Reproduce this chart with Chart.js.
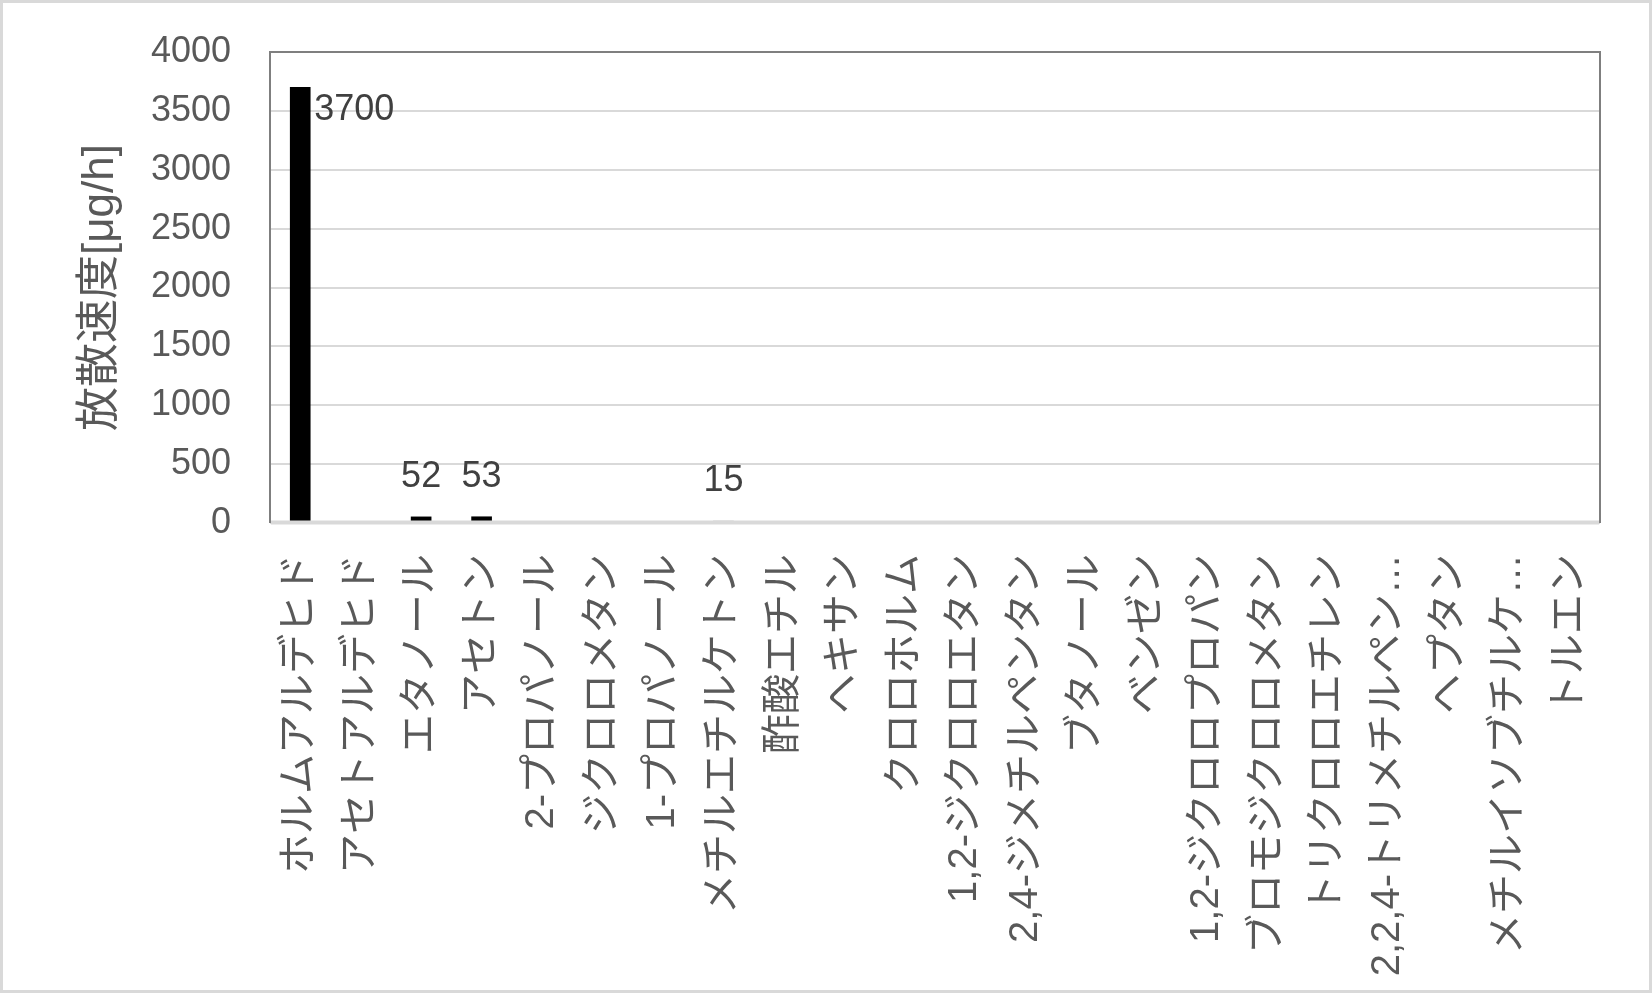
<!DOCTYPE html>
<html>
<head>
<meta charset="utf-8">
<script src="https://cdn.jsdelivr.net/npm/chart.js@4"></script>
<style>
  body { margin: 0; background: #fff; }
  #c { display: block; }
</style>
</head>
<body>
<canvas id="c" width="1652" height="993"></canvas>
<script>
// 物質名（Excelで省略された名前はそのまま）
const compounds = [
  'ホルムアルデヒド', 'アセトアルデヒド', 'エタノール', 'アセトン',
  '2-プロパノール', 'ジクロロメタン', '1-プロパノール', 'メチルエチルケトン',
  '酢酸エチル', 'ヘキサン', 'クロロホルム', '1,2-ジクロロエタン',
  '2,4-ジメチルペンタン', 'ブタノール', 'ベンゼン', '1,2-ジクロロプロパン',
  'ブロモジクロロメタン', 'トリクロロエチレン', '2,2,4-トリメチルペン…', 'ヘプタン',
  'メチルイソブチルケ…', 'トルエン'
];
// 放散速度 [μg/h]、値のないものは null
const emissionRate = [
  3700, null, 52, 53,
  null, null, null, 15,
  null, null, null, null,
  null, null, null, null,
  null, null, null, null,
  null, null
];
const yTicks = [0, 500, 1000, 1500, 2000, 2500, 3000, 3500, 4000];

const latin = "'Liberation Sans', 'Noto Sans CJK JP', sans-serif";

// 背景と外枠、プロットエリアの枠
const frame = {
  id: 'frame',
  beforeDraw(chart) {
    const ctx = chart.ctx;
    ctx.save();
    ctx.fillStyle = '#fff';
    ctx.fillRect(0, 0, chart.width, chart.height);
    ctx.strokeStyle = '#d9d9d9';
    ctx.lineWidth = 3;
    ctx.strokeRect(1.5, 1.5, chart.width - 3, chart.height - 3);
    ctx.restore();
  },
  beforeDatasetsDraw(chart) {
    const a = chart.chartArea, ctx = chart.ctx;
    ctx.save();
    ctx.strokeStyle = '#7f7f7f';
    ctx.lineWidth = 2;
    ctx.beginPath();
    ctx.moveTo(a.left, a.bottom);
    ctx.lineTo(a.left, a.top);
    ctx.lineTo(a.right, a.top);
    ctx.lineTo(a.right, a.bottom);
    ctx.stroke();
    ctx.restore();
  },
  afterDatasetsDraw(chart) {
    // 横軸の線は棒の上に
    const a = chart.chartArea, ctx = chart.ctx;
    ctx.save();
    ctx.strokeStyle = '#d9d9d9';
    ctx.lineWidth = 4;
    ctx.beginPath();
    ctx.moveTo(a.left + 1, a.bottom - 0.5);
    ctx.lineTo(a.right - 1, a.bottom - 0.5);
    ctx.stroke();
    ctx.restore();
  }
};

// データラベル（上に入らないときは棒の右側）
const valueLabels = {
  id: 'valueLabels',
  afterDatasetsDraw(chart) {
    const ctx = chart.ctx, a = chart.chartArea;
    const meta = chart.getDatasetMeta(0);
    ctx.save();
    ctx.font = '36px ' + latin;
    ctx.fillStyle = '#404040';
    ctx.textBaseline = 'alphabetic';
    meta.data.forEach((bar, i) => {
      const v = emissionRate[i];
      if (v === null) return;
      const txt = String(v);
      if (bar.y - 60 < a.top) {
        ctx.textAlign = 'left';
        ctx.fillText(txt, bar.x + bar.width / 2 + 4, bar.y + 33);
      } else {
        ctx.textAlign = 'center';
        ctx.fillText(txt, bar.x, bar.y - 30);
      }
    });
    ctx.restore();
  }
};

new Chart(document.getElementById('c'), {
  type: 'bar',
  data: {
    labels: compounds,
    datasets: [{
      data: emissionRate,
      backgroundColor: '#000000',
      barThickness: 20
    }]
  },
  options: {
    responsive: false,
    animation: false,
    devicePixelRatio: 1,
    layout: { padding: { top: 52, right: 52, bottom: 0, left: 74 } },
    plugins: {
      legend: { display: false },
      tooltip: { enabled: false }
    },
    scales: {
      x: {
        grid: { display: false, drawTicks: false },
        border: { display: false },
        ticks: {
          autoSkip: false,
          minRotation: 90,
          maxRotation: 90,
          padding: 31,
          color: '#595959',
          font: { family: latin, size: 40 }
        },
        afterFit(scale) { scale.height = 470; }
      },
      y: {
        min: 0,
        max: 4000,
        afterBuildTicks(scale) { scale.ticks = yTicks.map(v => ({ value: v })); },
        grid: { color: '#d9d9d9', lineWidth: 2, tickLength: 39, tickColor: 'rgba(0,0,0,0)' },
        border: { display: false },
        ticks: {
          padding: 0,
          color: '#595959',
          font: { family: latin, size: 36 },
          callback: v => String(v)
        },
        title: {
          display: true,
          text: '放散速度[μg/h]',
          color: '#595959',
          font: { family: latin, size: 44 },
          padding: { top: 0, bottom: 0 }
        },
        afterFit(scale) { scale.width = 196; }
      }
    }
  },
  plugins: [frame, valueLabels]
});
</script>
</body>
</html>
